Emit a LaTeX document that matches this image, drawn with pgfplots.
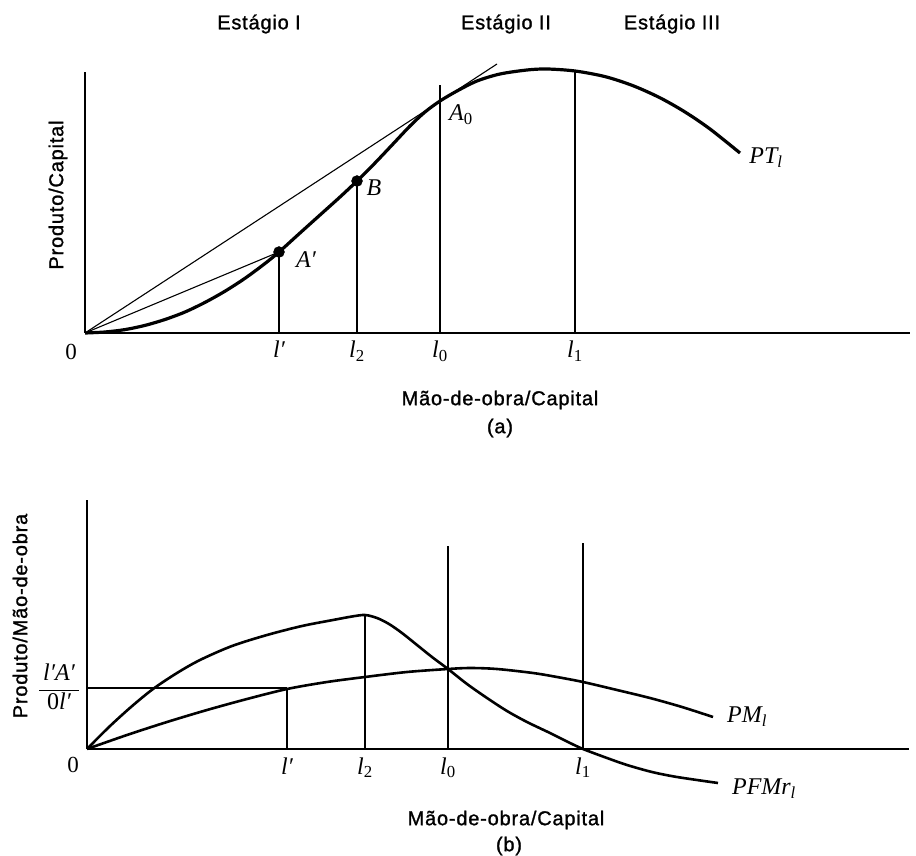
\documentclass[border=0pt]{standalone}
\usepackage{fontspec}
\usepackage{pgfplots}
\pgfplotsset{compat=1.18}
\newfontfamily\sans[LetterSpace=4, FakeBold=1.2]{Liberation Sans}
\newfontfamily\tms{Liberation Serif}
\newcommand\lab{\sans\fontsize{20}{22}\selectfont}
\newcommand\mth{\tms\fontsize{24}{26}\selectfont\itshape}
\setlength{\arrayrulewidth}{0.9pt}

\pgfplotsset{
  econ/.style={
    x=1pt, y=1pt, enlargelimits=false, clip=false,
    axis lines*=left,
    axis line style={line width=1.4pt, -},
    ytick=\empty,
    major tick length=0pt,
    xticklabel style={anchor=base, yshift=-25pt, font=\mth},
  },
  thin line/.style={black, line width=1.1pt},
}

\begin{document}
\begin{tikzpicture}
\path[use as bounding box] (0,0) rectangle (916pt,855pt);

% (a) produto total
\begin{axis}[econ, at={(85pt,522pt)}, anchor=south west,
  xmin=0, xmax=825, ymin=0, ymax=261,
  xtick={194,272,355,490},
  xticklabels={{l′},{l\textsubscript{\upshape 2}},{l\textsubscript{\upshape 0}},{l\textsubscript{\upshape 1}}}]
  \addplot[black, line width=3.2pt, smooth] coordinates {
    (0,0) (20,1) (40,3.4) (60,7.6) (80,13.5) (100,21) (120,30.6)
    (140,41.8) (160,54.7) (180,69.5) (194,81) (215,100) (235,118)
    (255,136) (272,152) (290,170) (308,189) (325,207) (340,221)
    (355,232) (372,242) (392,252) (415,259) (442,263) (462,264)
    (490,262) (520,256.4) (548,247.3) (575,235.2) (600,221)
    (625,204) (655,180)
  };
  % tangente e corda
  \addplot[thin line] coordinates {(0,0) (412,269)};
  \addplot[thin line] coordinates {(0,0) (194,81)};
  % verticais
  \addplot[thin line] coordinates {(194,0) (194,81)};
  \addplot[thin line] coordinates {(272,0) (272,152)};
  \addplot[thin line] coordinates {(355,0) (355,248)};
  \addplot[thin line] coordinates {(490,0) (490,261)};
  \addplot[black, only marks, mark=*, mark size=5.5pt] coordinates {(194,81) (272,152)};
  \node[font=\mth] at (axis cs:221,73) {A′};
  \node[font=\mth] at (axis cs:289,145) {B};
  \node[font=\mth] at (axis cs:376,218) {A\textsubscript{\upshape 0}};
  \node[font=\mth] at (axis cs:681,175) {PT\textsubscript{l}};
\end{axis}

% (b) produtos medio e marginal
\begin{axis}[econ, at={(87pt,106pt)}, anchor=south west,
  xmin=0, xmax=822, ymin=0, ymax=249,
  xtick={200,278,361,496},
  xticklabels={{l′},{l\textsubscript{\upshape 2}},{l\textsubscript{\upshape 0}},{l\textsubscript{\upshape 1}}}]
  % produto fisico marginal
  \addplot[black, line width=2.6pt, smooth] coordinates {
    (0,0) (22,22) (44,42) (66,60) (90,76) (113,89) (145,103)
    (180,114) (215,123) (246,129) (265,132.5) (278,134) (290,131)
    (302,125) (315,116) (330,104) (345,92) (361,80) (380,65)
    (400,51) (420,38) (440,27) (463,16) (480,7.5) (496,0)
    (520,-9) (540,-16) (565,-23) (590,-28) (631,-34)
  };
  % produto medio
  \addplot[black, line width=2.6pt, smooth] coordinates {
    (0,0) (40,14) (80,27) (120,39) (160,50) (200,60) (240,67)
    (278,72) (320,77) (361,80) (383,81) (410,80) (446,76)
    (470,72) (496,67) (530,59) (563,51) (595,42) (626,32)
  };
  \addplot[thin line] coordinates {(0,61) (200,61)};
  \addplot[thin line] coordinates {(200,0) (200,60)};
  \addplot[thin line] coordinates {(278,0) (278,134)};
  \addplot[thin line] coordinates {(361,0) (361,203)};
  \addplot[thin line] coordinates {(496,0) (496,206)};
  \node[font=\mth] at (axis cs:660,32) {PM\textsubscript{l}};
  \node[font=\mth] at (axis cs:677,-40) {PFMr\textsubscript{l}};
\end{axis}

% textos
\node[font=\lab] at (259pt,831pt) {Estágio I};
\node[font=\lab] at (506pt,831pt) {Estágio II};
\node[font=\lab] at (672pt,831pt) {Estágio III};
\node[font=\lab, rotate=90] at (58pt,660pt) {Produto/Capital};
\node[font=\lab, rotate=90] at (20pt,239pt) {Produto/Mão-de-obra};
\node[font=\lab] at (500pt,455pt) {Mão-de-obra/Capital};
\node[font=\lab] at (500pt,427pt) {(a)};
\node[font=\lab] at (506pt,35pt) {Mão-de-obra/Capital};
\node[font=\lab] at (509pt,9pt) {(b)};
\node[font=\tms\fontsize{23}{24}\selectfont] at (71pt,503pt) {0};
\node[font=\tms\fontsize{23}{24}\selectfont] at (73pt,90pt) {0};
\node[font=\mth, inner sep=0pt] at (59pt,165pt) {\begin{tabular}{@{\hspace{4pt}}c@{\hspace{4pt}}}l′A′\\[1pt]\hline\rule{0pt}{19pt}{\upshape 0}l′\end{tabular}};
\end{tikzpicture}
\end{document}
